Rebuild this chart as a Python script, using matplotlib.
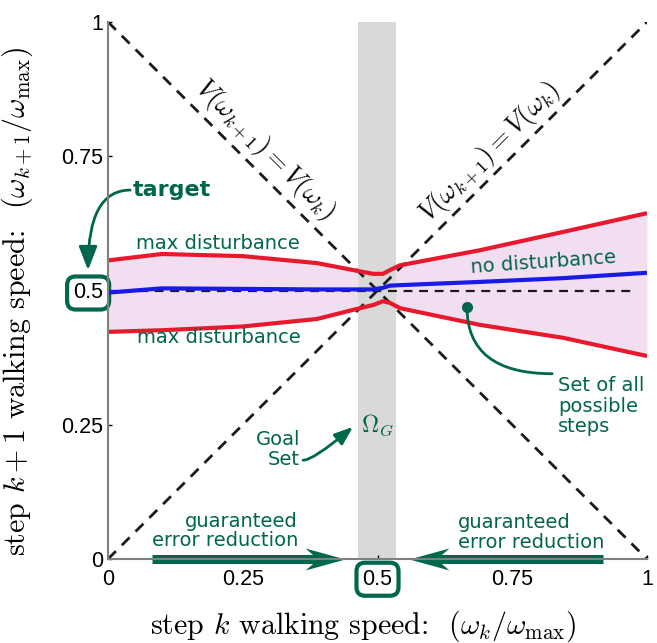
import matplotlib
matplotlib.use('Agg')
import matplotlib.pyplot as plt
from matplotlib.path import Path

plt.rcParams['mathtext.fontset'] = 'cm'
plt.rcParams['font.family'] = ['DejaVu Sans']

# ---- data ----
x_pts = [0.0, 0.1, 0.25, 0.388, 0.455, 0.492, 0.51, 0.523, 0.542, 0.69, 0.844, 1.0]
max_dist_upper = [0.556, 0.568, 0.564, 0.551, 0.538, 0.531, 0.531, 0.538, 0.547, 0.575, 0.609, 0.644]
no_dist = [0.496, 0.504, 0.503, 0.502, 0.502, 0.502, 0.505, 0.509, 0.510, 0.516, 0.523, 0.533]
max_dist_lower = [0.423, 0.426, 0.433, 0.447, 0.464, 0.473, 0.480, 0.477, 0.467, 0.436, 0.412, 0.378]

goal_set = [0.464, 0.534]
target = 0.5
target_line_x = [0.0, 0.98]
diag_up_x = [0.0, 1.0]
diag_up_y = [0.0, 1.0]
diag_down_y = [1.0, 0.0]

xticks = [0, 0.25, 0.5, 0.75, 1]
xtick_labels = ['0', '0.25', '0.5', '0.75', '1']
yticks = [0, 0.25, 0.5, 0.75, 1]
ytick_labels = ['0', '0.25', '0.5', '0.75', '1']

# error-reduction arrows: (tail, tip) along the x axis
err_arrows = [(0.082, 0.44), (0.918, 0.558)]

GREEN = '#00664c'
RED = '#e8192c'
BLUE = '#1a1ae6'
FILL = '#f1dff1'
BAND = '#d9d9d9'
SPINE = '#808080'

fig = plt.figure(figsize=(6.57, 6.43), dpi=100)
ax = fig.add_axes([108/657, 1-559/643, 539/657, 537/643])
ax.set_xlim(0, 1)
ax.set_ylim(0, 1)

ax.fill_between(x_pts, max_dist_lower, max_dist_upper, color=FILL, lw=0, zorder=1)
ax.axvspan(goal_set[0], goal_set[1], color=BAND, lw=0, zorder=1.5)

ax.plot(diag_up_x, diag_up_y, ls=(0, (4, 3)), color='#1a1a1a', lw=2, zorder=2)
ax.plot(diag_up_x, diag_down_y, ls=(0, (4, 3)), color='#1a1a1a', lw=2, zorder=2)
ax.plot(target_line_x, [target, target], ls=(0, (4, 3)), color='#1a1a1a', lw=1.6, zorder=2)

ax.plot(x_pts, max_dist_upper, color=RED, lw=3, zorder=3, solid_capstyle='butt')
ax.plot(x_pts, max_dist_lower, color=RED, lw=3, zorder=3, solid_capstyle='butt')
ax.plot(x_pts, no_dist, color=BLUE, lw=3, zorder=3, solid_capstyle='butt')

# spines / ticks
for s in ['top', 'right']:
    ax.spines[s].set_visible(False)
for s in ['left', 'bottom']:
    ax.spines[s].set_color(SPINE)
    ax.spines[s].set_linewidth(1.5)
    ax.spines[s].set_zorder(6)
ax.set_xticks(xticks, labels=xtick_labels)
ax.set_yticks(yticks, labels=ytick_labels)
ax.tick_params(direction='in', length=3, width=1, colors='black',
               labelsize=15.5)
ax.tick_params(axis='x', pad=7)
ax.tick_params(axis='y', pad=3.5)
for lab in ax.get_xticklabels() + ax.get_yticklabels():
    lab.set_fontfamily('Liberation Sans')
box = dict(boxstyle='round,pad=0.28,rounding_size=0.4', fc='white', ec=GREEN, lw=3)
ax.get_xticklabels()[2].set_bbox(box)
ax.get_yticklabels()[2].set_bbox(box)

ax.set_xlabel(r'step $k$ walking speed:  $(\omega_k/\omega_{\max})$',
              fontsize=21.5, fontfamily='cmr10')
ax.set_ylabel(r'step $k+1$ walking speed:  $(\omega_{k+1}/\omega_{\max})$',
              fontsize=21.5, fontfamily='cmr10')
ax.xaxis.set_label_coords(0.473, -0.093)
ax.yaxis.set_label_coords(-0.135, 0.48)

# diagonal labels
ax.text(0.291, 0.762, r'$V(\omega_{k+1}) = V(\omega_k)$', rotation=-45,
        rotation_mode='anchor', ha='center', va='center', fontsize=19, zorder=4)
ax.text(0.709, 0.758, r'$V(\omega_{k+1}) = V(\omega_k)$', rotation=45,
        rotation_mode='anchor', ha='center', va='center', fontsize=19, zorder=4)

# annotation texts
ax.text(0.203, 0.588, 'max disturbance', color=GREEN, fontsize=14, ha='center', va='center')
ax.text(0.206, 0.413, 'max disturbance', color=GREEN, fontsize=14, ha='center', va='center')
ax.text(0.807, 0.553, 'no disturbance', color=GREEN, fontsize=14, ha='center', va='center',
        rotation=4, rotation_mode='anchor')
ax.text(0.045, 0.687, 'target', color=GREEN, fontsize=16, fontweight='bold',
        ha='left', va='center')
ax.annotate('', xy=(-0.037, 0.538), xytext=(0.041, 0.687), annotation_clip=False,
            arrowprops=dict(arrowstyle='-|>,head_length=0.9,head_width=0.35',
                            connectionstyle='angle3,angleA=0,angleB=90',
                            color=GREEN, lw=2, mutation_scale=16, shrinkA=0, shrinkB=0))

ax.text(0.835, 0.340, 'Set of all\npossible\nsteps', color=GREEN, fontsize=14,
        ha='left', va='top', linespacing=1.1)
ax.annotate('', xy=(0.666, 0.469), xytext=(0.824, 0.345),
            arrowprops=dict(arrowstyle='-', connectionstyle='angle3,angleA=0,angleB=90',
                            color=GREEN, lw=2, shrinkA=0, shrinkB=0))
ax.plot([0.666], [0.469], 'o', color=GREEN, ms=7, zorder=5)

ax.text(0.356, 0.204, 'Goal\nSet', color=GREEN, fontsize=14, ha='right', va='center',
        linespacing=1.1)
ax.annotate('', xy=(0.4545, 0.246), xytext=(0.362, 0.184),
            arrowprops=dict(arrowstyle='-|>,head_length=0.8,head_width=0.3',
                            connectionstyle='angle3,angleA=0,angleB=40',
                            color=GREEN, lw=2, mutation_scale=14, shrinkA=0, shrinkB=0))
ax.text(0.499, 0.249, r'$\Omega_G$', color=GREEN, fontsize=17, ha='center', va='center')

ax.text(0.3525, 0.052, 'guaranteed\nerror reduction', color=GREEN, fontsize=14,
        ha='right', va='center', linespacing=1.05, multialignment='right')
ax.text(0.649, 0.050, 'guaranteed\nerror reduction', color=GREEN, fontsize=14,
        ha='left', va='center', linespacing=1.05, multialignment='left')

# swept-back (dart) arrow heads as custom markers with the tip at the origin
def dart(direction):
    s = 1 if direction > 0 else -1
    verts = [(0, 0), (-40 * s, 11), (-27 * s, 0), (-40 * s, -11), (0, 0)]
    codes = [Path.MOVETO, Path.LINETO, Path.LINETO, Path.LINETO, Path.CLOSEPOLY]
    return Path(verts, codes)

head_ms = 40 * 2 * 72 / 100  # marker extent so that 40 units == 40 px
notch = 27 / 539             # head notch depth in axis units
for tail, tip in err_arrows:
    d = 1 if tip > tail else -1
    ax.plot([tail, tip - d * notch], [0, 0], color=GREEN, lw=6.5,
            solid_capstyle='butt', clip_on=False, zorder=5)
    ax.plot([tip], [0], marker=dart(d), ms=head_ms, color=GREEN, mew=0,
            clip_on=False, zorder=5)

fig.savefig('out.png', dpi=100)
